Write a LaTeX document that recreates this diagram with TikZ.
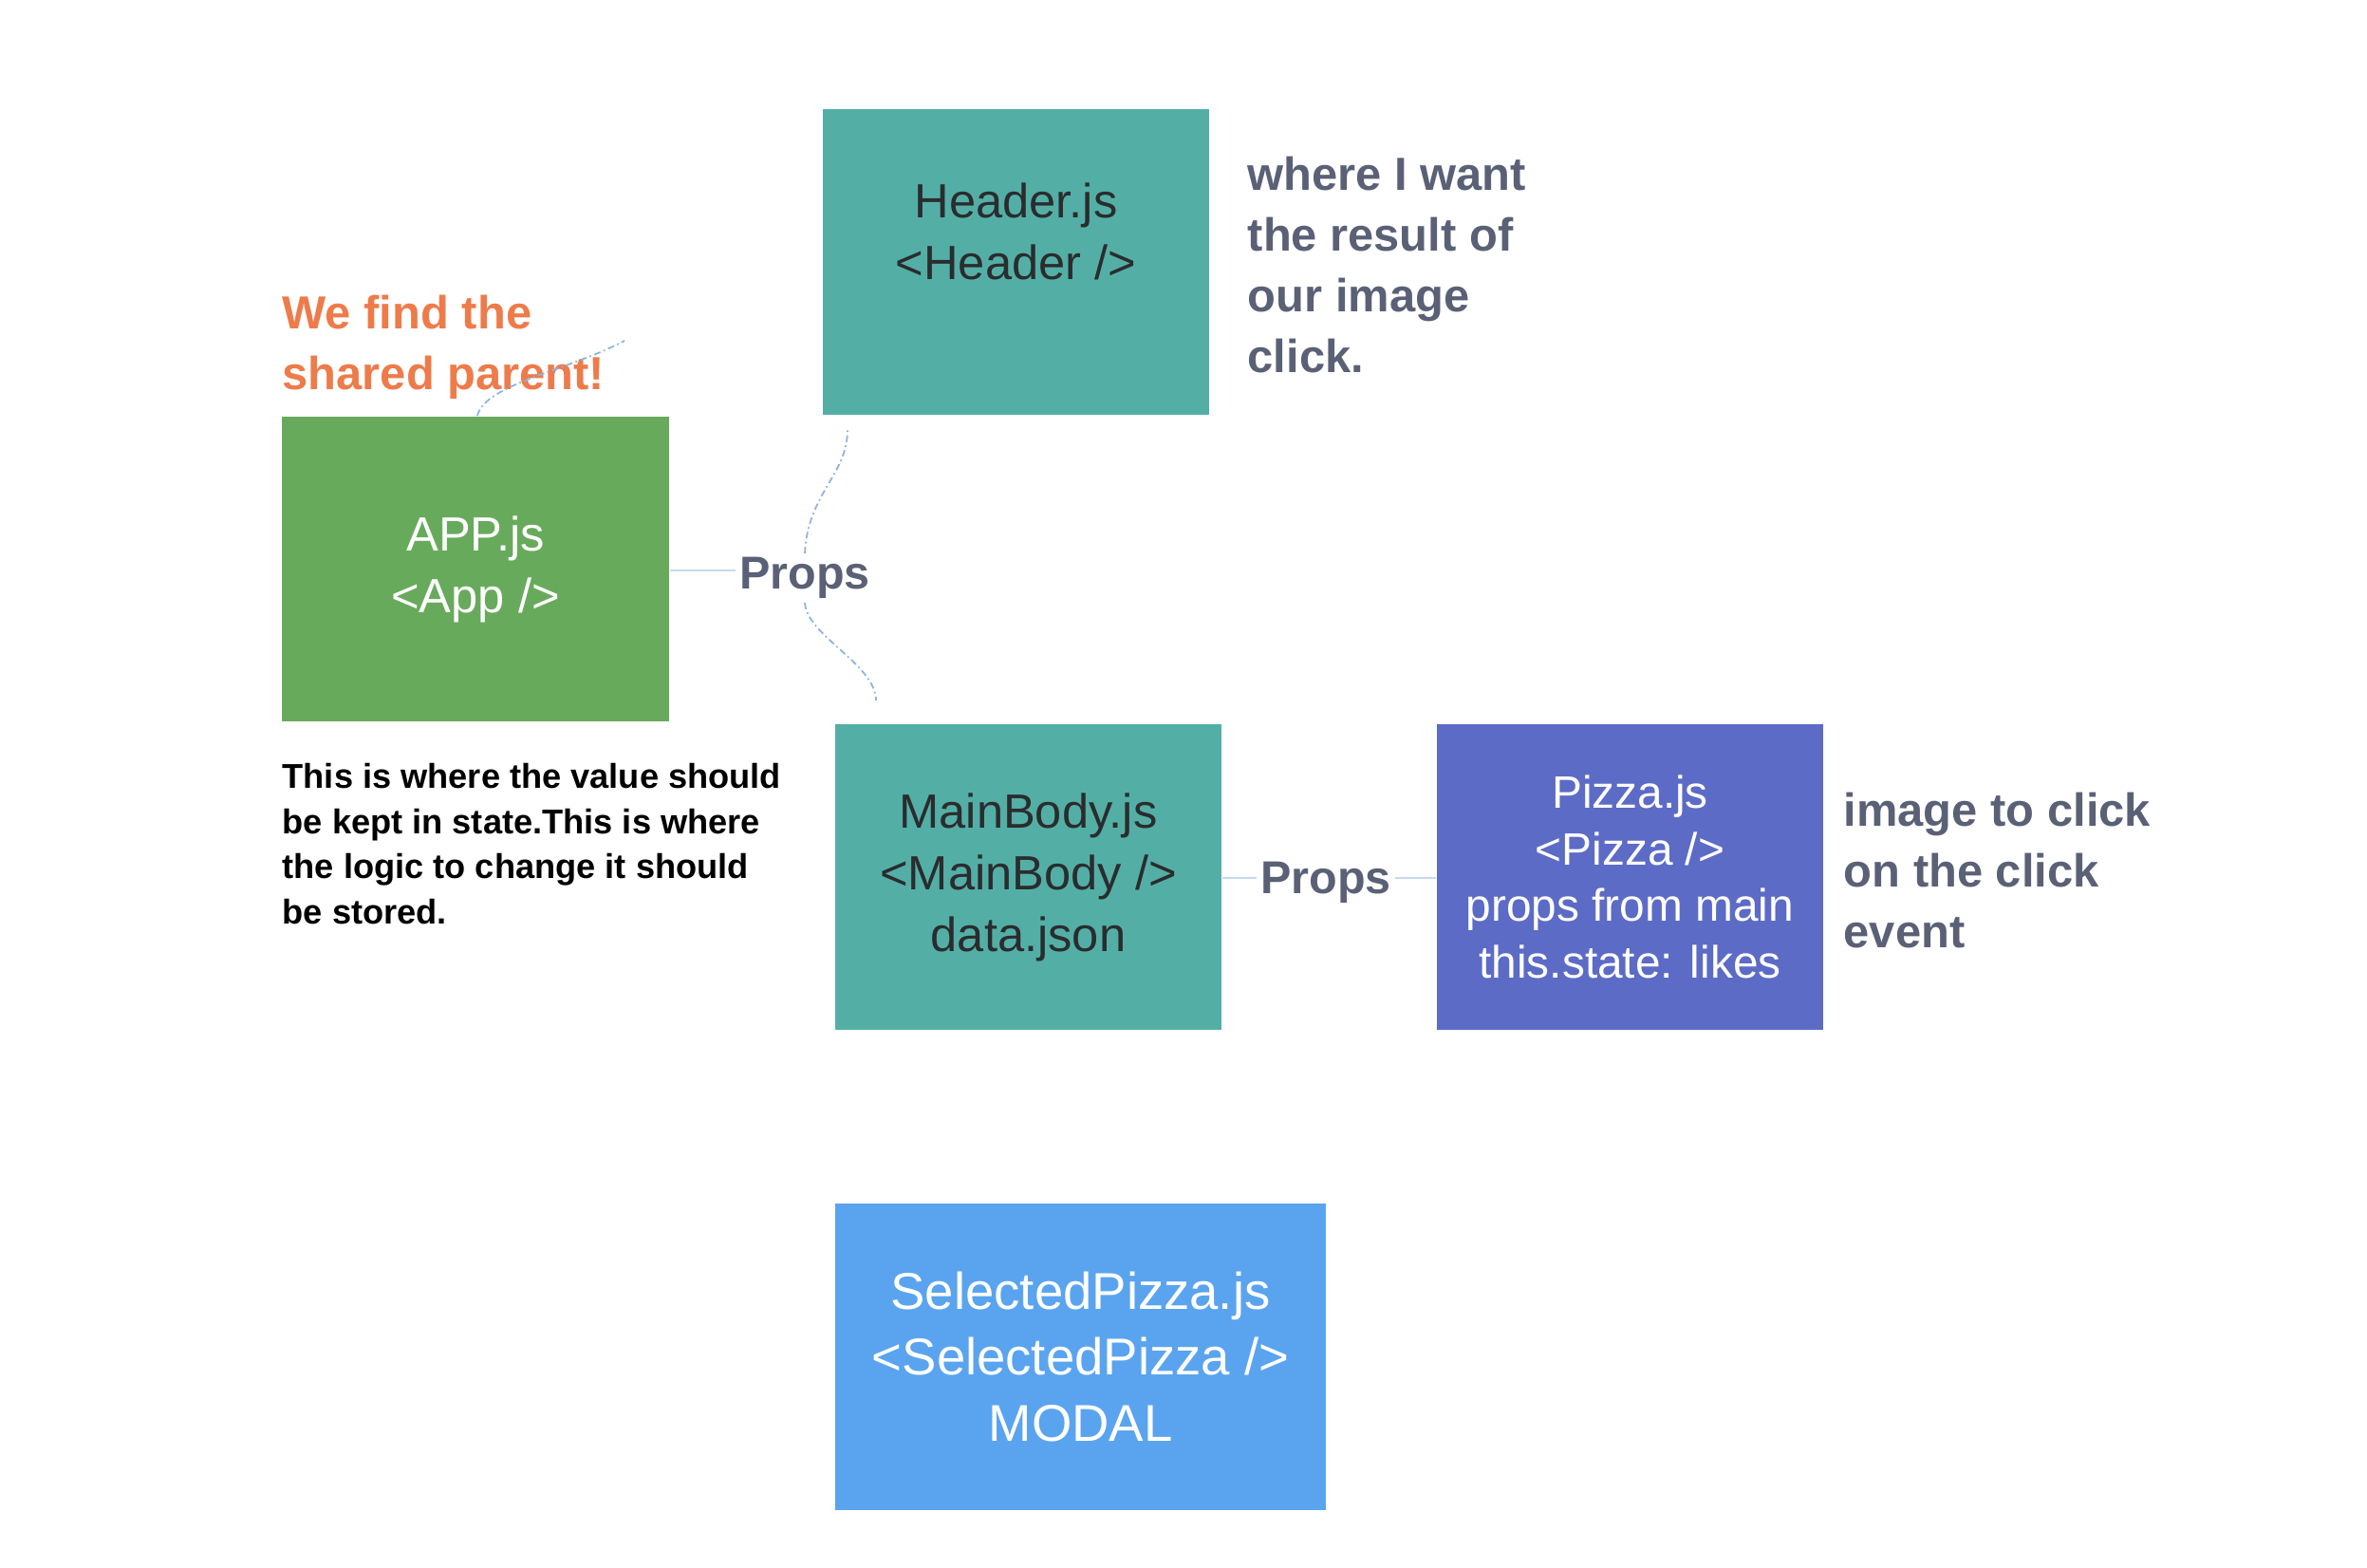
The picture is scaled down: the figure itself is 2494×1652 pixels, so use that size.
\documentclass[tikz,border=0pt]{standalone}
\usepackage{fontspec}
\setmainfont{Liberation Sans}
\usetikzlibrary{positioning}
\definecolor{tealbox}{HTML}{53AFA6}
\definecolor{greenbox}{HTML}{68AA5C}
\definecolor{indigobox}{HTML}{5C6BC6}
\definecolor{skybox}{HTML}{5AA4EF}
\definecolor{notegray}{HTML}{5A6176}
\definecolor{noteorange}{HTML}{EE7B4A}
\definecolor{linkblue}{HTML}{C6D8F1}
\definecolor{dashblue}{HTML}{8DB2E2}
\definecolor{darktext}{HTML}{2A2C2E}

\begin{document}
\begin{tikzpicture}[x=0.01cm,y=-0.01cm,
  box/.style={rectangle,inner sep=0pt,align=center,minimum width=4.07cm,minimum height=3.22cm,font=\fontsize{14.4}{18.5}\selectfont},
  note/.style={anchor=west,inner sep=0pt,align=left,text=notegray,font=\bfseries\fontsize{13.9}{18.2}\selectfont},
  props/.style={inner sep=1pt,text=notegray,font=\bfseries\fontsize{13.8}{16}\selectfont},
  link/.style={draw=linkblue,line width=0.6pt},
  wave/.style={draw=dashblue,line width=0.5pt,dash pattern=on 2pt off 1pt on 0.5pt off 1pt}]
  \useasboundingbox (0,0) rectangle (2494,1652);
  \node[box,fill=tealbox,text=darktext] (hdr) at (1070.5,276) {Header.js\\<Header />\\\mbox{}};
  \node[box,fill=greenbox,text=white,minimum width=4.08cm,minimum height=3.21cm] (app) at (501,599.5) {APP.js\\<App />};
  \node[box,fill=tealbox,text=darktext] (mainbody) at (1083.5,924) {MainBody.js\\<MainBody />\\data.json};
  \node[box,fill=indigobox,text=white,font=\fontsize{13.6}{17}\selectfont] (pizza) at (1717.5,924) {Pizza.js\\<Pizza />\\props from main\\this.state: likes};
  \node[box,fill=skybox,text=white,minimum width=5.17cm,minimum height=3.23cm,font=\fontsize{15.5}{19.7}\selectfont] (selpizza) at (1138.5,1429.5) {SelectedPizza.js\\<SelectedPizza />\\MODAL};
  \node[note] (hdrnote) at (1314,279) {where I want\\the result of\\our image\\click.};
  \node[note,text=noteorange] (parentnote) at (297,366) {We find the\\shared parent!};
  \node[note,text=black,font=\bfseries\fontsize{10.3}{13.6}\selectfont] (statenote) at (297,889) {This is where the value should\\be kept in state.This is where\\the logic to change it should\\be stored.};
  \node[note] (pizzanote) at (1942,917) {image to click\\on the click\\event};
  \node[props] (props1) at (848,609) {Props};
  \node[props] (props2) at (1397,930) {Props};
  \draw[link] (app.east |- 0,601) -- (props1.west |- 0,601);
  \draw[link] (mainbody.east |- 0,925) -- (props2.west |- 0,925);
  \draw[link] (props2.east |- 0,925) -- (pizza.west |- 0,925);
  \coordinate (wavetop) at (893,453);
  \coordinate (wavebot) at (923,738);
  \coordinate (hooktip) at (658,359);
  \draw[wave] (props1.north) .. controls (851,520) and (893,500) .. (wavetop);
  \draw[wave] (props1.south) .. controls (850,670) and (923,700) .. (wavebot);
  \draw[wave] (app.north -| 503,0) .. controls (510,405) and (600,390) .. (hooktip);
\end{tikzpicture}
\end{document}
